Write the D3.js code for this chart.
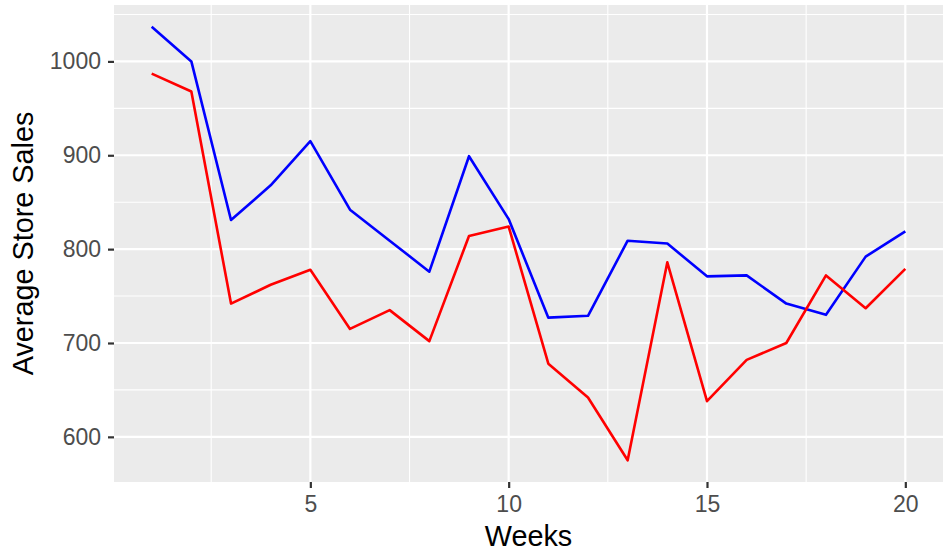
<!DOCTYPE html>
<html>
<head>
<meta charset="utf-8">
<script src="https://cdn.jsdelivr.net/npm/d3@7"></script>
<style>
  html, body { margin: 0; padding: 0; background: #ffffff; }
  svg { display: block; }
</style>
</head>
<body>
<svg id="chart" width="943" height="556"></svg>
<script>
// ---- Data ----
const weeks = [1,2,3,4,5,6,7,8,9,10,11,12,13,14,15,16,17,18,19,20];
const blueSales = [1037,1000,831,868,915,842,809,776,899,832,727,729,809,806,771,772,742,730,792,819];
const redSales  = [987,968,742,762,778,715,735,702,814,824,678,642,575,786,638,682,700,772,737,779];
const xTicks = [5,10,15,20];
const xMinor = [2.5,7.5,12.5,17.5];
const yTicks = [600,700,800,900,1000];
const yMinor = [650,750,850,950,1050];
const xTitle = "Weeks";
const yTitle = "Average Store Sales";

// ---- Layout ----
const svg = d3.select("#chart");
const panel = { left: 114, right: 943, top: 5, bottom: 482 };

const allVals = blueSales.concat(redSales);
const yMin = d3.min(allVals), yMax = d3.max(allVals);
const yPad = (yMax - yMin) * 0.05;
const xPad = (d3.max(weeks) - d3.min(weeks)) * 0.05;

const x = d3.scaleLinear()
  .domain([d3.min(weeks) - xPad, d3.max(weeks) + xPad])
  .range([panel.left, panel.right]);
const y = d3.scaleLinear()
  .domain([yMin - yPad, yMax + yPad])
  .range([panel.bottom, panel.top]);

// panel background
svg.append("rect")
  .attr("x", panel.left).attr("y", panel.top)
  .attr("width", panel.right - panel.left)
  .attr("height", panel.bottom - panel.top)
  .attr("fill", "#EBEBEB");

const grid = svg.append("g");
// minor grid
grid.selectAll(".ymin").data(yMinor.filter(v => y(v) >= panel.top && y(v) <= panel.bottom)).enter()
  .append("line")
  .attr("x1", panel.left).attr("x2", panel.right)
  .attr("y1", d => y(d)).attr("y2", d => y(d))
  .attr("stroke", "#ffffff").attr("stroke-width", 1.1);
grid.selectAll(".xmin").data(xMinor).enter()
  .append("line")
  .attr("y1", panel.top).attr("y2", panel.bottom)
  .attr("x1", d => x(d)).attr("x2", d => x(d))
  .attr("stroke", "#ffffff").attr("stroke-width", 1.1);
// major grid
grid.selectAll(".ymaj").data(yTicks).enter()
  .append("line")
  .attr("x1", panel.left).attr("x2", panel.right)
  .attr("y1", d => y(d)).attr("y2", d => y(d))
  .attr("stroke", "#ffffff").attr("stroke-width", 2.2);
grid.selectAll(".xmaj").data(xTicks).enter()
  .append("line")
  .attr("y1", panel.top).attr("y2", panel.bottom)
  .attr("x1", d => x(d)).attr("x2", d => x(d))
  .attr("stroke", "#ffffff").attr("stroke-width", 2.2);

// lines
const line = d3.line().x((d, i) => x(weeks[i])).y(d => y(d));
svg.append("path").datum(blueSales)
  .attr("d", line).attr("fill", "none")
  .attr("stroke", "#0000FF").attr("stroke-width", 2.6)
  .attr("stroke-linejoin", "round");
svg.append("path").datum(redSales)
  .attr("d", line).attr("fill", "none")
  .attr("stroke", "#FF0000").attr("stroke-width", 2.6)
  .attr("stroke-linejoin", "round");

// axes
const fontFam = "'Liberation Sans', Arial, Helvetica, sans-serif";
const xAxis = d3.axisBottom(x).tickValues(xTicks).tickFormat(d3.format("d")).tickSize(6).tickPadding(8);
const gx = svg.append("g").attr("transform", `translate(0,${panel.bottom})`).call(xAxis);
gx.select(".domain").remove();
gx.selectAll(".tick line").attr("stroke", "#333333").attr("stroke-width", 2.2);
gx.selectAll(".tick text").attr("fill", "#4D4D4D")
  .style("font-family", fontFam).style("font-size", "23px");

const yAxis = d3.axisLeft(y).tickValues(yTicks).tickFormat(d3.format("d")).tickSize(6).tickPadding(7);
const gy = svg.append("g").attr("transform", `translate(${panel.left},0)`).call(yAxis);
gy.select(".domain").remove();
gy.selectAll(".tick line").attr("stroke", "#333333").attr("stroke-width", 2.2);
gy.selectAll(".tick text").attr("fill", "#4D4D4D")
  .style("font-family", fontFam).style("font-size", "23px");

// titles
svg.append("text")
  .attr("x", (panel.left + panel.right) / 2).attr("y", 546)
  .attr("text-anchor", "middle")
  .style("font-family", fontFam).style("font-size", "28.8px")
  .attr("fill", "#000000")
  .text(xTitle);
svg.append("text")
  .attr("transform", `translate(33,${(panel.top + panel.bottom) / 2}) rotate(-90)`)
  .attr("text-anchor", "middle")
  .style("font-family", fontFam).style("font-size", "28.8px")
  .attr("fill", "#000000")
  .text(yTitle);
</script>
</body>
</html>
